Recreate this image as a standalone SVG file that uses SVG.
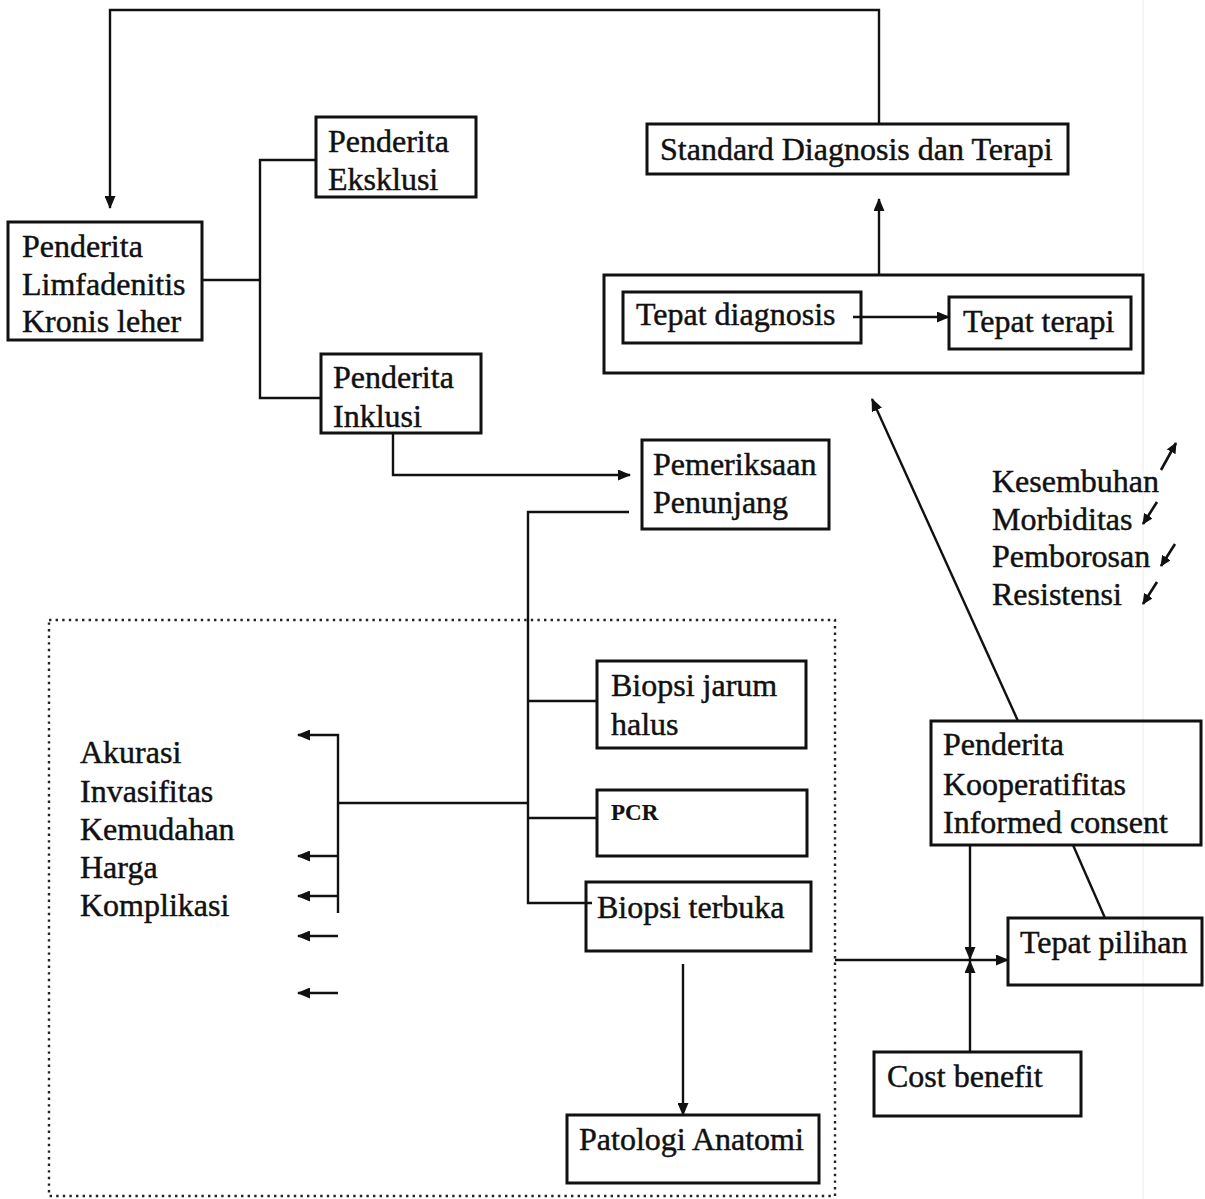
<svg xmlns="http://www.w3.org/2000/svg" width="1205" height="1199" viewBox="0 0 1205 1199">
<style>
  .box { fill: none; stroke: #111; stroke-width: 3; }
  .ln { fill: none; stroke: #111; stroke-width: 2.4; }
  .arr { fill: none; stroke: #111; stroke-width: 2.4; marker-end: url(#ah); }
  .sarr { fill: none; stroke: #111; stroke-width: 2.6; marker-end: url(#sah); }
  .dot { fill: none; stroke: #222; stroke-width: 2.4; stroke-dasharray: 2.4 4.2; }
  text { font-family: "Liberation Serif", "Times New Roman", serif; font-size: 32px; fill: #111; stroke: #111; stroke-width: 0.45; }
  .pcr { font-size: 23px; font-weight: bold; stroke-width: 0.2; }
</style>
<defs>
  <marker id="ah" markerUnits="userSpaceOnUse" markerWidth="13" markerHeight="11" refX="12" refY="5.5" orient="auto">
    <path d="M0,0 L13,5.5 L0,11 z" fill="#111"/>
  </marker>
  <marker id="sah" markerUnits="userSpaceOnUse" markerWidth="11" markerHeight="10" refX="10" refY="5" orient="auto">
    <path d="M0,0 L11,5 L0,10 z" fill="#111"/>
  </marker>
</defs>
<rect x="0" y="0" width="1205" height="1199" fill="#fff"/>
<line x1="1143" y1="0" x2="1143" y2="1199" stroke="#ececec" stroke-width="1"/>

<g id="connectors">
  <path class="arr" d="M879,124 V10 H110 V208"/>
  <path class="ln" d="M202,280 H260"/>
  <path class="ln" d="M316,160 H260 V398 H321"/>
  <path class="arr" d="M393,433 V475 H630"/>
  <path class="ln" d="M629,512 H528 V903 H592"/>
  <path class="ln" d="M528,701 H597"/>
  <path class="ln" d="M528,818 H597"/>
  <path class="ln" d="M528,803 H338"/>
  <path class="arr" d="M338,913 V735 H298"/>
  <path class="arr" d="M338,856 H298"/>
  <path class="arr" d="M338,896 H298"/>
  <path class="arr" d="M338,936 H298"/>
  <path class="arr" d="M338,993 H298"/>
  <path class="arr" d="M683,964 V1115"/>
  <path class="arr" d="M835,960 H1008"/>
  <path class="arr" d="M970,845 V959"/>
  <path class="arr" d="M970,1052 V961"/>
  <path class="ln" d="M1073,845 L1105,918"/>
  <path class="arr" d="M1018,721 L872,399"/>
  <path class="arr" d="M879,275 V199"/>
  <path class="arr" d="M853,317 H949"/>
  <path class="sarr" d="M1161,470 L1176,443"/>
  <path class="sarr" d="M1157,502 L1143,524"/>
  <path class="sarr" d="M1175,544 L1161,566"/>
  <path class="sarr" d="M1157,582 L1143,604"/>
</g>

<g id="dotted-region">
  <rect class="dot" x="49" y="620" width="786" height="576"/>
</g>

<g id="n-limfadenitis">
  <rect class="box" x="8" y="222" width="194" height="118"/>
  <text x="22" y="257">Penderita</text>
  <text x="22" y="295">Limfadenitis</text>
  <text x="22" y="332">Kronis leher</text>
</g>
<g id="n-eksklusi">
  <rect class="box" x="316" y="117" width="160" height="80"/>
  <text x="328" y="152">Penderita</text>
  <text x="328" y="190">Eksklusi</text>
</g>
<g id="n-inklusi">
  <rect class="box" x="321" y="354" width="160" height="79"/>
  <text x="333" y="388">Penderita</text>
  <text x="333" y="427">Inklusi</text>
</g>
<g id="n-pemeriksaan">
  <rect class="box" x="642" y="440" width="187" height="89"/>
  <text x="653" y="475">Pemeriksaan</text>
  <text x="653" y="513">Penunjang</text>
</g>
<g id="n-standard">
  <rect class="box" x="647" y="124" width="421" height="50"/>
  <text x="660" y="160">Standard Diagnosis dan Terapi</text>
</g>
<g id="n-tepat-group">
  <rect class="box" x="604" y="275" width="539" height="98"/>
</g>
<g id="n-tepat-diagnosis">
  <rect class="box" x="623" y="292" width="238" height="51"/>
  <text x="636" y="325">Tepat diagnosis</text>
</g>
<g id="n-tepat-terapi">
  <rect class="box" x="949" y="297" width="182" height="52"/>
  <text x="963" y="332">Tepat terapi</text>
</g>
<g id="n-outcomes">
  <text x="992" y="492">Kesembuhan</text>
  <text x="992" y="530">Morbiditas</text>
  <text x="992" y="567">Pemborosan</text>
  <text x="992" y="605">Resistensi</text>
</g>
<g id="n-criteria">
  <text x="80" y="763">Akurasi</text>
  <text x="80" y="802">Invasifitas</text>
  <text x="80" y="840">Kemudahan</text>
  <text x="80" y="878">Harga</text>
  <text x="80" y="916">Komplikasi</text>
</g>
<g id="n-biopsi-jarum">
  <rect class="box" x="597" y="661" width="209" height="87"/>
  <text x="611" y="696">Biopsi jarum</text>
  <text x="611" y="735">halus</text>
</g>
<g id="n-pcr">
  <rect class="box" x="597" y="790" width="210" height="66"/>
  <text class="pcr" x="611" y="820">PCR</text>
</g>
<g id="n-biopsi-terbuka">
  <rect class="box" x="586" y="882" width="225" height="69"/>
  <text x="597" y="918">Biopsi terbuka</text>
</g>
<g id="n-patologi">
  <rect class="box" x="567" y="1115" width="252" height="68"/>
  <text x="579" y="1150">Patologi Anatomi</text>
</g>
<g id="n-penderita-koop">
  <rect class="box" x="931" y="721" width="270" height="124"/>
  <text x="943" y="755">Penderita</text>
  <text x="943" y="795">Kooperatifitas</text>
  <text x="943" y="833">Informed consent</text>
</g>
<g id="n-tepat-pilihan">
  <rect class="box" x="1008" y="918" width="194" height="67"/>
  <text x="1020" y="953">Tepat pilihan</text>
</g>
<g id="n-cost-benefit">
  <rect class="box" x="874" y="1052" width="207" height="64"/>
  <text x="887" y="1087">Cost benefit</text>
</g>
</svg>
